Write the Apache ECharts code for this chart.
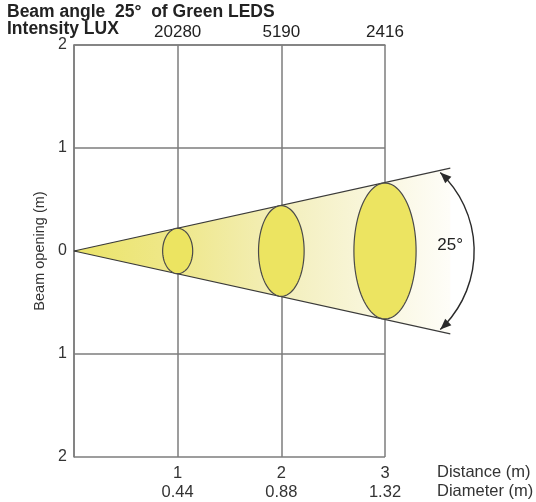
<!DOCTYPE html>
<html>
<head>
<meta charset="utf-8">
<script src="https://cdn.jsdelivr.net/npm/echarts@6/dist/echarts.min.js"></script>
<style>html,body{margin:0;padding:0;background:#fff}#c{width:536px;height:502px}</style>
</head>
<body>
<div id="c"></div>
<script>
// ---- data ----
const distances = [1, 2, 3];                 // m
const diameters = ['0.44', '0.88', '1.32'];  // m
const intensities = ['20280', '5190', '2416']; // lux
const beamAngle = 25;                        // degrees
const beamLength = 3.63;                     // m, how far the drawn cone goes
const spotHeights = [0.44, 0.88, 1.32];      // vertical size of each spot (m)
const spotWidths = [0.29, 0.44, 0.60];       // drawn horizontal size of each spot (m)
const arcCenterX = 2.82;                     // angle marker arc centre (m)
const arcRadius = 1.04;                      // m
const arcHalfSpan = 46.7;                    // degrees

const FONT = 'Liberation Sans, Arial, sans-serif';
const chart = echarts.init(document.getElementById('c'), null, {renderer: 'canvas'});

const halfTan = Math.tan(beamAngle / 2 * Math.PI / 180);

function beamItem(params, api) {
  const a = api.coord([0, 0]);
  const t = api.coord([beamLength, beamLength * halfTan]);
  const b = api.coord([beamLength, -beamLength * halfTan]);
  const grad = new echarts.graphic.LinearGradient(0, 0, 1, 0, [
    {offset: 0, color: '#ebe468'},
    {offset: 0.3, color: '#efe88f'},
    {offset: 0.6, color: '#f4f0c2'},
    {offset: 1, color: '#fefdf8'}
  ]);
  return {
    type: 'group',
    children: [
      {type: 'polygon', shape: {points: [a, t, b]}, style: {fill: grad, stroke: null}},
      {type: 'line', shape: {x1: a[0], y1: a[1], x2: t[0], y2: t[1]}, style: {stroke: '#3a3a3a', lineWidth: 1.2}},
      {type: 'line', shape: {x1: a[0], y1: a[1], x2: b[0], y2: b[1]}, style: {stroke: '#3a3a3a', lineWidth: 1.2}}
    ]
  };
}

function spotItem(params, api) {
  const c = api.coord([api.value(0), 0]);
  const rx = api.size([api.value(1) / 2, 0])[0];
  const ry = api.size([0, api.value(2) / 2])[1];
  const pts = [];
  for (let i = 0; i < 90; i++) {
    const t = i / 90 * Math.PI * 2;
    pts.push([c[0] + rx * Math.cos(t), c[1] + ry * Math.sin(t)]);
  }
  return {type: 'polygon', shape: {points: pts},
    style: {fill: '#ece461', stroke: '#4a4a4a', lineWidth: 1.2}};
}

function arcItem(params, api) {
  const c = api.coord([arcCenterX, 0]);
  const r = api.size([arcRadius, 0])[0];
  const th = arcHalfSpan * Math.PI / 180;
  const children = [{
    type: 'arc',
    shape: {cx: c[0], cy: c[1], r: r, startAngle: -th, endAngle: th, clockwise: true},
    style: {stroke: '#2a2a2a', lineWidth: 1.4, fill: null}
  }];
  [-th, th].forEach(function (ang) {
    const p = [c[0] + r * Math.cos(ang), c[1] + r * Math.sin(ang)];
    const s = ang < 0 ? 1 : -1;
    const d = [s * Math.sin(ang), -s * Math.cos(ang)];
    const n = [-d[1], d[0]];
    const L = 11, W = 4.5;
    const base = [p[0] - d[0] * L, p[1] - d[1] * L];
    children.push({type: 'polygon', shape: {points: [p,
      [base[0] + n[0] * W, base[1] + n[1] * W],
      [base[0] - n[0] * W, base[1] - n[1] * W]]},
      style: {fill: '#2a2a2a'}});
  });
  children.push({type: 'text', x: c[0] + r - 24, y: c[1] - 6,
    style: {text: beamAngle + '°', font: '17px ' + FONT, fill: '#222', align: 'center', verticalAlign: 'middle'}});
  return {type: 'group', children: children};
}

const gridLine = {color: '#7d7d7d', width: 1.5};

chart.setOption({
  animation: false,
  backgroundColor: '#fff',
  grid: {left: 74, right: 151, top: 45, bottom: 45},
  xAxis: [{
    type: 'value', min: 0, max: 3, interval: 1, position: 'bottom',
    axisLine: {show: true, lineStyle: gridLine},
    axisTick: {show: false},
    splitLine: {show: true, lineStyle: gridLine},
    axisLabel: {
      margin: 7,
      formatter: function (v) {
        const i = distances.indexOf(v);
        return i < 0 ? '' : '{a|' + v + '}\n{b|' + diameters[i] + '}';
      },
      rich: {
        a: {fontFamily: FONT, fontSize: 16.5, color: '#333', lineHeight: 19},
        b: {fontFamily: FONT, fontSize: 16.5, color: '#333', lineHeight: 19}
      }
    }
  }, {
    type: 'value', min: 0, max: 3, interval: 1, position: 'top',
    axisLine: {show: true, lineStyle: gridLine},
    axisTick: {show: false},
    splitLine: {show: false},
    axisLabel: {
      margin: 4, fontFamily: FONT, fontSize: 17, color: '#222',
      formatter: function (v) {
        const i = distances.indexOf(v);
        return i < 0 ? '' : intensities[i];
      }
    }
  }],
  yAxis: {
    type: 'value', min: -2, max: 2, interval: 1,
    name: 'Beam opening (m)', nameLocation: 'middle', nameGap: 25,
    nameTextStyle: {fontFamily: FONT, fontSize: 14.5, color: '#333'},
    axisLine: {show: true, lineStyle: gridLine},
    axisTick: {show: false},
    splitLine: {show: true, lineStyle: gridLine},
    axisLabel: {margin: 7, fontFamily: FONT, fontSize: 16, color: '#333',
      formatter: function (v) { return String(Math.abs(v)); }}
  },
  graphic: [
    {type: 'text', left: 7, top: 3, style: {text: 'Beam angle  ' + beamAngle + '°  of Green LEDS', font: 'bold 17.5px ' + FONT, fill: '#222'}},
    {type: 'text', left: 7, top: 20, style: {text: 'Intensity LUX', font: 'bold 17.5px ' + FONT, fill: '#222'}},
    {type: 'text', left: 437, top: 464, style: {text: 'Distance (m)', font: '16.5px ' + FONT, fill: '#333'}},
    {type: 'text', left: 437, top: 483, style: {text: 'Diameter (m)', font: '16.5px ' + FONT, fill: '#333'}}
  ],
  series: [
    {type: 'custom', clip: false, renderItem: beamItem, data: [[0, 0]], z: 3},
    {type: 'custom', clip: false, renderItem: spotItem,
      data: distances.map(function (d, i) { return [d, spotWidths[i], spotHeights[i]]; }), z: 4},
    {type: 'custom', clip: false, renderItem: arcItem, data: [[arcCenterX, 0]], z: 5}
  ]
});
</script>
</body>
</html>
